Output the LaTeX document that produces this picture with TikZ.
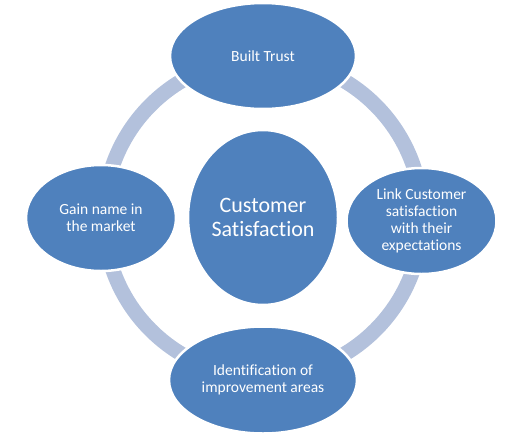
\documentclass[tikz,border=0pt]{standalone}
\usepackage{fontspec}
\setmainfont[Ligatures=CommonOff]{Carlito}
\usetikzlibrary{shapes.geometric}

\definecolor{ovalblue}{HTML}{4F81BD}
\definecolor{ringblue}{HTML}{B3C1DC}

\begin{document}
\begin{tikzpicture}[
  x=1pt, y=-1pt,
  oval/.style={
    ellipse,
    draw=white,
    line width=2.5pt,
    fill=ovalblue,
    text=white,
    align=center,
    inner sep=0pt,
    font=\fontsize{15.5}{17.2}\selectfont
  },
  hub/.style={
    oval,
    font=\fontsize{22}{23.5}\selectfont
  },
  ring/.style={draw=ringblue, line width=15pt}
]
\useasboundingbox (0,0) rectangle (518,442);

\node[hub, minimum width=150pt, minimum height=175pt] (hub) at (263,217.5)
  {Customer\\Satisfaction};

% ring behind the ovals
\draw[ring] (hub.center) circle[radius=159pt];

\node[oval, minimum width=186pt, minimum height=106pt] (trust) at (263,56)
  {Built Trust};
\node[oval, minimum width=150pt, minimum height=106pt] (link) at (421.5,221)
  {Link Customer\\satisfaction\\with their\\expectations};
\node[oval, minimum width=188pt, minimum height=107pt] (improve) at (263,380)
  {Identification of\\improvement areas};
\node[oval, minimum width=150pt, minimum height=106pt] (gain) at (101,218)
  {Gain name in\\the market};

\end{tikzpicture}
\end{document}
